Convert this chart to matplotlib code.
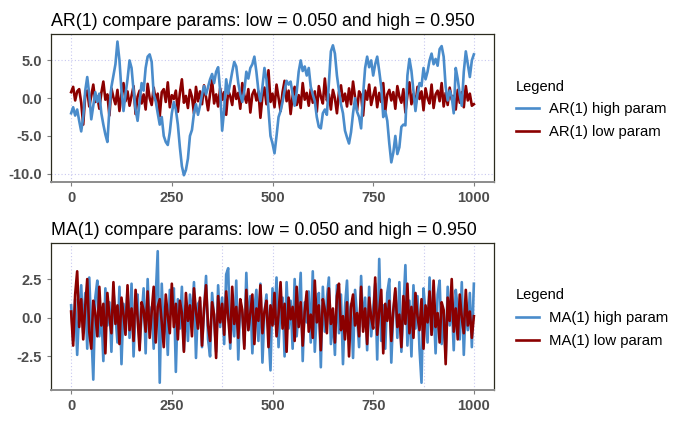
import numpy as np
import matplotlib
matplotlib.use("Agg")
import matplotlib.pyplot as plt

plt.rcParams['font.family'] = ['Liberation Sans', 'DejaVu Sans']

# AR(1) series, read every 5 steps from the picture
ar_high = [-2.0, -1.2, -2.3, -1.5, -3.0, -4.4, -2.5, 1.0, 2.8, 0.5,
           -2.8, -1.0, 0.8, -0.5, 0.6, -2.0, -3.5, -4.8, -5.8, -1.5,
           1.5, 3.0, 4.5, 7.5, 5.0, 1.0, -1.7, 0.5, 2.5, 5.0,
           4.0, 1.0, -1.5, -3.0, -0.5, 2.0, 1.0, 4.0, 5.5, 5.8,
           4.8, 0.5, -0.4, -2.0, -3.5, -2.5, -5.0, -5.8, -6.2, -4.5,
           -2.0, -0.5, -1.5, -3.5, -6.5, -9.0, -10.2, -9.5, -8.0, -5.0,
           -4.2, -2.0, -0.8, -2.2, -1.0, 0.5, 1.6, 0.5, 1.5, 2.5,
           3.2, 2.0, 3.5, 4.1, 1.0, -4.3, -1.5, 2.5, 0.6, 2.0,
           3.5, 4.8, 4.2, 2.0, 0.5, -0.5, 1.0, 3.5, 2.6, 4.0,
           4.5, 5.5, 3.5, 1.0, -0.4, 1.5, 4.0, 2.5, -1.5, -5.0,
           -6.0, -7.3, -5.0, -2.5, -1.7, -0.5, 1.0, 2.3, 1.8, 2.2,
           0.5, -1.0, 0.8, 3.5, 5.0, 3.6, 4.2, 3.0, 4.0, 1.5,
           0.5, -0.4, -2.5, -3.8, -4.0, -2.0, -1.5, -2.2, 2.0, 6.2,
           7.0, 5.9, 3.0, 1.0, -0.8, -2.0, -4.3, -5.2, -6.0, -4.5,
           -2.0, 0.0, -1.8, -2.5, -4.0, 0.5, 4.0, 5.5, 4.1, 5.0,
           3.0, 4.5, 5.5, 3.6, 1.5, -2.5, -1.7, -3.0, -6.0, -8.5,
           -7.2, -5.0, -7.4, -6.5, -3.8, -3.5, -3.6, 3.0, 5.2, 3.6,
           1.0, -1.7, 0.5, 2.0, 1.6, 4.0, 2.5, 3.5, 5.0, 5.9,
           4.5, 5.2, 4.3, 6.5, 6.9, 5.5, 1.5, -0.3, 1.0, 0.2,
           -2.0, 4.0, 2.5, 0.5, -1.0, 3.5, 6.2, 4.5, 2.8, 5.0,
           5.8]

ar_low = [0.8, 1.5, -0.3, 0.9, 1.2, -0.6, -3.5, 0.4, 1.0, -1.1,
          0.3, 1.8, -0.5, 0.2, -1.4, 0.7, 2.2, -0.2, 0.5, -2.3,
          1.3, 0.1, -0.8, 1.1, -1.7, 0.6, 2.0, -0.4, 0.9, -1.0,
          0.3, 1.6, -2.1, 0.2, 1.0, -0.7, 0.5, -1.5, 1.9, 0.0,
          -0.9, 1.4, -0.3, 0.6, -2.4, 0.8, 1.2, -0.5, 2.1, -1.2,
          0.4, -0.1, 1.0, -1.8, 0.7, 2.5, -0.6, 0.3, -1.3, 1.1,
          0.2, -2.0, 1.5, -0.4, 0.9, -0.8, 1.7, 0.1, -1.6, 0.6,
          2.4, -0.7, 0.5, -1.1, 1.3, -0.2, 0.8, -2.2, 1.0, 0.3,
          -0.9, 1.6, -0.1, 0.7, -1.4, 2.0, 0.4, -0.6, 1.2, -1.9,
          0.5, 1.1, -0.3, 0.9, -2.6, 0.2, 1.4, -0.8, 3.7, -0.5,
          0.6, -1.2, 1.8, 0.0, -1.7, 0.8, 2.3, -0.4, 1.0, -2.1,
          0.3, 1.5, -0.9, 0.4, -1.3, 2.0, -0.2, 0.7, -1.0, 1.2,
          -0.6, 0.9, -1.8, 1.6, 0.2, -0.7, 2.6, -0.3, 0.5, -1.5,
          1.1, 0.0, -2.0, 0.8, 1.7, -0.4, 0.6, -1.1, 1.3, -0.8,
          2.2, 0.1, -1.6, 0.9, 0.4, -2.3, 1.0, -0.2, 1.8, -0.9,
          0.3, 1.4, -1.2, 0.7, -0.5, 2.0, -1.7, 0.5, 1.1, -0.3,
          0.8, -1.4, 1.6, 0.2, -0.6, 1.2, -1.9, 0.4, 2.1, -0.8,
          0.6, -1.0, 1.5, -0.1, 0.9, -1.6, 1.3, 0.0, -0.7, 1.8,
          -1.3, 0.5, 1.0, -0.4, 2.0, -1.1, 0.7, -0.9, 1.4, -0.2,
          0.3, -1.5, 1.1, -0.6, 0.8, -1.2, 1.6, -0.3, 0.6, -1.0,
          -0.8]

# MA(1) series, read every 5 steps from the picture
ma_high = [0.8, -1.5, 1.2, -2.4, 0.5, 2.1, -1.0, 1.6, -2.0, 2.6,
           -0.8, -4.0, 1.3, 2.4, -1.2, 0.4, -2.8, 1.9, -0.5, 1.0,
           -2.2, 1.7, 0.2, -1.6, 2.0, -3.0, 0.9, -0.4, 1.8, -1.3,
           2.2, -2.5, 0.6, 1.5, -1.8, 0.1, 1.9, -2.3, 2.5, -0.9,
           0.7, -2.0, 1.4, 4.3, -4.2, 2.2, -1.1, 0.5, -2.4, 1.8,
           0.3, 1.9, -3.5, 1.2, -0.7, 2.0, -2.1, 0.8, -1.5, 1.5,
           -0.2, 2.3, -2.6, 0.9, 1.1, -1.9, 0.4, 2.7, -1.4, -2.5,
           1.6, 0.0, -2.2, 2.1, -0.6, 1.3, -1.7, 2.8, 3.2, -2.0,
           0.7, -1.2, 2.4, -2.7, 1.0, 0.2, -1.8, 2.9, -0.8, 1.4,
           -2.3, 0.6, 1.8, -1.5, 2.2, -2.9, 0.3, 1.5, -1.0, -3.4,
           1.9, -0.4, 2.6, -1.9, 0.8, 1.3, -2.5, 2.3, -0.7, 1.1,
           -2.0, 2.5, -1.2, 0.5, 2.9, -2.8, 1.0, -0.3, 1.7, -1.6,
           3.0, -2.2, 0.4, 1.6, -3.2, 2.0, -0.9, 1.2, 2.6, -1.7,
           0.2, -2.4, 2.1, -1.0, 1.5, -3.0, 0.7, 2.4, -1.4, 0.9,
           -2.6, 1.8, 0.1, -1.9, 2.7, -0.6, 1.3, -2.1, 2.0, -1.2,
           0.5, 2.2, -2.7, 3.8, -1.5, 0.8, -2.0, 1.6, 2.5, -2.9,
           0.4, 1.7, -1.3, 2.3, -2.2, 0.6, 3.4, -1.8, 1.1, -2.5,
           2.1, -0.7, 1.4, -2.0, -4.2, 1.9, 0.2, -1.6, 2.6, -1.1,
           0.9, -2.3, 1.5, 2.4, -1.7, 0.3, -2.6, 2.0, -0.5, 1.2,
           -2.1, 1.8, 0.6, -1.4, 2.3, -2.4, 1.0, -0.8, 1.6, -1.9,
           2.2]

ma_low = [0.4, -1.8, 1.5, 3.0, -0.6, 1.2, -1.4, 0.7, 2.5, -0.9,
          -2.0, 1.1, 0.3, -1.2, 2.0, -0.5, 0.9, -2.3, 1.6, 0.1,
          -1.0, 2.3, -0.4, 0.8, -1.7, 1.3, 0.2, -1.1, 2.1, -0.8,
          0.6, -1.5, 1.8, 0.0, -2.1, 1.0, 0.5, -0.9, 1.7, -1.3,
          0.4, 2.0, -1.6, 0.7, 1.2, -0.3, -1.9, 1.5, 0.1, -1.0,
          2.2, -0.6, 0.9, -1.4, 1.1, 0.3, -2.2, 1.6, -0.2, 0.8,
          -1.2, 1.9, 0.4, -0.7, 1.3, -1.8, 0.6, 2.1, -0.5, -1.5,
          1.0, 0.2, -2.6, 1.4, -0.3, 0.9, -1.1, 1.7, 0.0, -1.6,
          2.0, -0.4, 0.7, -1.3, 1.2, 0.5, -2.0, 1.8, -0.8, 0.3,
          1.5, -1.7, 0.6, -0.2, 2.1, -1.0, 0.4, 1.1, -1.9, 0.8,
          -0.5, 1.6, -1.2, 0.2, 2.3, -0.7, 0.9, -2.2, 1.3, -0.1,
          0.7, -1.5, 2.0, -0.6, 1.0, -1.8, 0.4, 1.7, -0.9, 0.2,
          -1.3, 2.4, -0.3, 0.8, -2.1, 1.2, 0.5, -1.0, 1.9, -0.4,
          0.6, -1.6, 1.4, 2.2, -0.8, 0.1, -1.4, 1.0, -2.5, 0.7,
          1.5, -0.5, 0.3, -1.2, 2.0, -0.9, 0.6, -1.7, 1.3, 0.0,
          -0.7, 2.6, -1.1, 0.4, 1.8, -2.3, 0.9, -0.2, 1.1, -1.5,
          0.5, 1.9, -0.6, 0.2, -1.9, 1.4, -0.4, 2.2, -1.0, 0.7,
          -1.3, 1.6, 0.1, -0.8, 1.2, -2.0, 0.8, -0.3, 1.7, -1.1,
          2.4, -0.6, 0.3, -1.6, 1.0, 0.5, -3.0, 1.3, -0.2, 2.5,
          -0.9, 0.6, -1.4, 1.5, 0.0, -1.0, 1.8, -0.5, 0.4, -1.3,
          0.1]

x_ticks = [0, 250, 500, 750, 1000]
grid_x = [0, 375, 500, 875, 1000]
blue = "#4A8CCB"
red = "#8B0000"
tick_col = "#4D4D4D"


def panel(ax, title, high, low, high_lab, low_lab, yticks, ylabels, ylim,
          grid_y, red_on_top):
    t_high = np.linspace(0, 1000, len(high))
    t_low = np.linspace(0, 1000, len(low))
    for gx in grid_x:
        ax.axvline(gx, color="#C8C8F0", lw=0.8, ls=(0, (1, 2)), zorder=0)
    for gy in grid_y:
        ax.axhline(gy, color="#C8C8F0", lw=0.8, ls=(0, (1, 2)), zorder=0)
    z_low = 3 if red_on_top else 2
    ax.plot(t_high, high, color=blue, lw=1.9, label=high_lab, zorder=2.5)
    ax.plot(t_low, low, color=red, lw=1.9, label=low_lab, zorder=z_low)
    ax.set_xlim(-50, 1050)
    ax.set_ylim(*ylim)
    ax.set_xticks(x_ticks)
    ax.set_xticklabels([str(v) for v in x_ticks])
    ax.set_yticks(yticks)
    ax.set_yticklabels(ylabels)
    ax.tick_params(colors="#7F7F7F", length=3, width=0.8,
                   labelcolor=tick_col, labelsize=10.5)
    for lab in ax.get_xticklabels() + ax.get_yticklabels():
        lab.set_fontweight("bold")
    for s in ["top", "right", "left"]:
        ax.spines[s].set_color("#2B2B1E")
        ax.spines[s].set_linewidth(0.9)
    ax.spines["bottom"].set_color("#8C8C8C")
    ax.spines["bottom"].set_linewidth(1.4)
    ax.set_title(title, loc="left", fontsize=12.8, pad=6, x=0.0)
    handles, labels = ax.get_legend_handles_labels()
    order = [labels.index(high_lab), labels.index(low_lab)]
    leg = ax.legend([handles[i] for i in order], [labels[i] for i in order],
                    title="Legend", loc="center left",
                    bbox_to_anchor=(1.02, 0.49), frameon=False,
                    fontsize=10.7, title_fontsize=10.5, alignment="left",
                    handlelength=1.5, handletextpad=0.7, labelspacing=0.6)
    return leg


fig = plt.figure(figsize=(6.91, 4.30), dpi=100)
ax1 = fig.add_axes([51 / 691, 1 - 182 / 430, 443 / 691, 148 / 430])
ax2 = fig.add_axes([51 / 691, 1 - 390 / 430, 443 / 691, 147 / 430])

panel(ax1, "AR(1) compare params: low = 0.050 and high = 0.950",
      ar_high, ar_low, "AR(1) high param", "AR(1) low param",
      [5, 0, -5, -10], ["5.0", "0.0", "-5.0", "-10.0"], (-11.1, 8.5),
      [5, -10], False)
panel(ax2, "MA(1) compare params: low = 0.050 and high = 0.950",
      ma_high, ma_low, "MA(1) high param", "MA(1) low param",
      [2.5, 0, -2.5], ["2.5", "0.0", "-2.5"], (-4.67, 4.83),
      [], True)

fig.savefig("out.png", dpi=100)
